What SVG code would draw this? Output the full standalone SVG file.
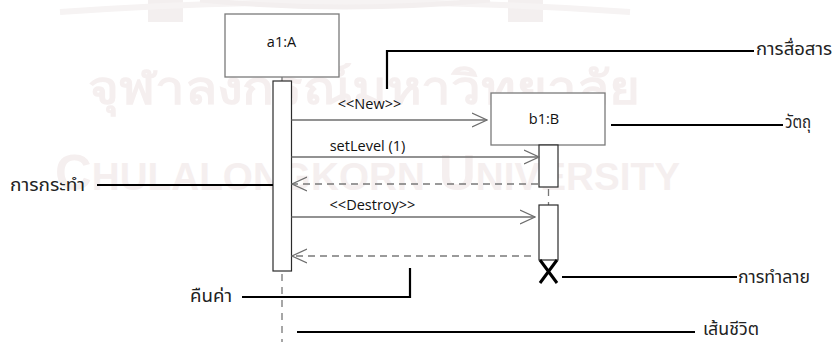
<svg xmlns="http://www.w3.org/2000/svg" width="834" height="342" viewBox="0 0 834 342">
  <style>
    .obj { fill: #ffffff; stroke: #7a7a7a; stroke-width: 1.3; }
    .act { fill: #ffffff; stroke: #2b2b2b; stroke-width: 1.2; }
    .lbl { font-family: "Open Sans", "Liberation Sans", sans-serif; font-size: 14.5px; fill: #111111; text-anchor: middle; }
    .th { font-family: "Noto Sans Thai", "Leelawadee UI", Tahoma, "DejaVu Sans", sans-serif; font-size: 17px; fill: #222222; }
    .msg { fill: none; stroke: #6e6e6e; stroke-width: 1.3; }
    .ret { fill: none; stroke: #7a7a7a; stroke-width: 1.3; stroke-dasharray: 7 5; }
    .life { fill: none; stroke: #777777; stroke-width: 1.3; stroke-dasharray: 7 6; }
    .note { fill: none; stroke: #000000; stroke-width: 2.2; }
    .wm { font-family: "Liberation Sans", sans-serif; font-weight: bold; fill: #f5efef; }
  </style>
  <defs>
    <marker id="open" viewBox="0 0 16 16" refX="15" refY="8" markerWidth="16" markerHeight="16" markerUnits="userSpaceOnUse" orient="auto">
      <path d="M0,1 L15,8 L0,15" fill="none" stroke="#6e6e6e" stroke-width="1.2"/>
    </marker>
  </defs>

  <rect width="834" height="342" fill="#ffffff"/>

  <!-- background emblem and wordmark -->
  <g id="watermark">
    <rect x="148" y="0" width="35" height="22" fill="#f3efef"/>
    <rect x="508" y="0" width="35" height="22" fill="#f3efef"/>
    <path d="M60,12 Q345,-8 630,12" fill="none" stroke="#f6f3f3" stroke-width="6"/>
    <path d="M200,0 Q345,14 490,0" fill="none" stroke="#f3efef" stroke-width="5"/>
    <text class="wm" x="88" y="104" font-size="46" textLength="552" lengthAdjust="spacingAndGlyphs" font-family="'Noto Sans Thai', Tahoma, sans-serif">จุฬาลงกรณ์มหาวิทยาลัย</text>
    <text class="wm" x="55" y="190" font-size="50" textLength="625" lengthAdjust="spacingAndGlyphs">C<tspan font-size="38">HULALONGKORN</tspan> U<tspan font-size="38">NIVERSITY</tspan></text>
  </g>

  <!-- object a1:A with lifeline and activation -->
  <g id="a1">
    <rect class="obj" x="225" y="14" width="114" height="63"/>
    <text class="lbl" x="281.5" y="47">a1:A</text>
    <line x1="282" y1="77" x2="282" y2="81" stroke="#777777" stroke-width="1.3"/>
    <rect class="act" x="273" y="81" width="18.5" height="190"/>
    <line class="life" x1="282" y1="274" x2="282" y2="342"/>
  </g>

  <!-- object b1:B with its two activations and destruction mark -->
  <g id="b1">
    <rect class="obj" x="491" y="93" width="114" height="52"/>
    <text class="lbl" x="544" y="124">b1:B</text>
    <rect class="act" x="539" y="145" width="19" height="42"/>
    <line class="life" x1="548.5" y1="189" x2="548.5" y2="205" stroke-dasharray="6 6"/>
    <rect class="act" x="539" y="205" width="19" height="55"/>
    <path d="M540,260 L557,283 M557,260 L540,283" fill="none" stroke="#000000" stroke-width="3"/>
  </g>

  <!-- messages -->
  <g id="messages">
    <line class="msg" x1="291.5" y1="120" x2="487" y2="120" marker-end="url(#open)"/>
    <text class="lbl" x="369.5" y="109">&lt;&lt;New&gt;&gt;</text>
    <line class="msg" x1="291.5" y1="157" x2="539" y2="157" marker-end="url(#open)"/>
    <text class="lbl" x="367.5" y="151">setLevel (1)</text>
    <line class="ret" x1="538" y1="184" x2="292" y2="184" marker-end="url(#open)"/>
    <line class="msg" x1="291.5" y1="217" x2="535" y2="217" marker-end="url(#open)"/>
    <text class="lbl" x="372.5" y="210">&lt;&lt;Destroy&gt;&gt;</text>
    <line class="ret" x1="531" y1="256" x2="292" y2="256" marker-end="url(#open)"/>
  </g>

  <!-- callouts -->
  <g id="callouts">
    <path class="note" d="M387,89 L387,51 L754,51"/>
    <text class="th" x="756" y="55" textLength="76" lengthAdjust="spacingAndGlyphs">การสื่อสาร</text>
    <line class="note" x1="611" y1="125" x2="783" y2="125"/>
    <text class="th" x="785" y="128" textLength="26" lengthAdjust="spacingAndGlyphs">วัตถุ</text>
    <line class="note" x1="97" y1="185" x2="273" y2="185"/>
    <text class="th" x="10" y="191" textLength="75" lengthAdjust="spacingAndGlyphs">การกระทำ</text>
    <path class="note" d="M242,297 L410,297 L410,268"/>
    <text class="th" x="190" y="302" textLength="42" lengthAdjust="spacingAndGlyphs">คืนค่า</text>
    <line class="note" x1="562" y1="277" x2="737" y2="277"/>
    <text class="th" x="738" y="283" textLength="72" lengthAdjust="spacingAndGlyphs">การทำลาย</text>
    <line class="note" x1="297" y1="332" x2="695" y2="332"/>
    <text class="th" x="703" y="335" font-size="16" textLength="56" lengthAdjust="spacingAndGlyphs">เส้นชีวิต</text>
  </g>
</svg>
